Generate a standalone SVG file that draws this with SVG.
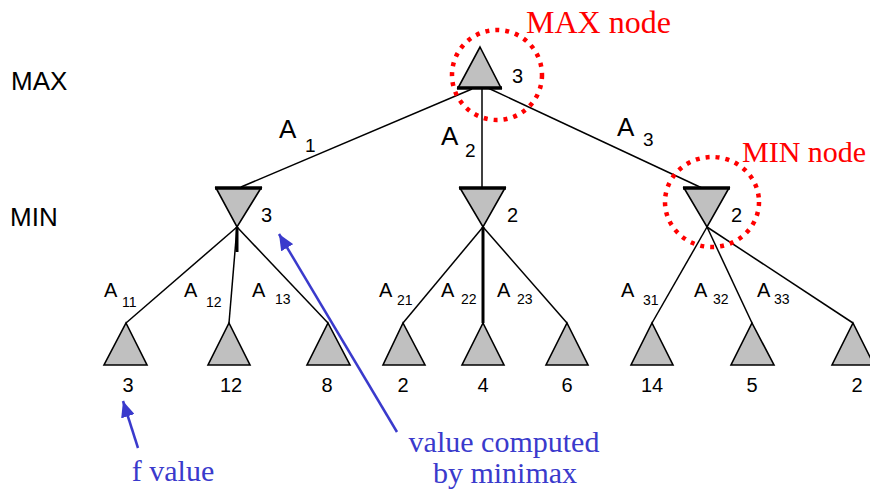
<svg xmlns="http://www.w3.org/2000/svg" width="870" height="494" viewBox="0 0 870 494">
<style>
.tri{fill:#c0c0c0;stroke:#000;stroke-width:1.6;stroke-linejoin:miter}
.bar{stroke:#000;stroke-width:3.5}
.edge{stroke:#000;stroke-width:1.5;fill:none}
.val{font-family:"Liberation Sans",Arial,sans-serif;font-size:20px;fill:#000}
.lvl{font-family:"Liberation Sans",Arial,sans-serif;font-size:26px;fill:#000}
.lab{font-family:"Liberation Sans",Arial,sans-serif;font-size:26px;fill:#000}
.lab2{font-family:"Liberation Sans",Arial,sans-serif;font-size:20px;fill:#000}
.sub{font-family:"Liberation Sans",Arial,sans-serif;font-size:14px;fill:#000}
.sub1{font-family:"Liberation Sans",Arial,sans-serif;font-size:19px;fill:#000}
.red{font-family:"Liberation Serif","Times New Roman",serif;font-size:32px;fill:#ff0000}
.blue{font-family:"Liberation Serif","Times New Roman",serif;font-size:30px;fill:#3a3acc}
.ring{fill:none;stroke:#ff0000;stroke-width:4.5;stroke-dasharray:4 6}
.barrow{stroke:#3a3acc;stroke-width:2.5;fill:none}
</style>
<defs>
<marker id="ah" markerUnits="userSpaceOnUse" markerWidth="18" markerHeight="14" refX="16" refY="7" orient="auto">
<path d="M0,0 L16,7 L0,14 Z" fill="#3a3acc"/>
</marker>
</defs>

<text class="lvl" x="11" y="90">MAX</text>
<text class="lvl" x="10" y="226">MIN</text>

<g id="connectors">
<line class="edge" x1="472" y1="89" x2="241" y2="187"/>
<line class="edge" x1="482" y1="88" x2="482" y2="188"/>
<line class="edge" x1="488" y1="88" x2="702" y2="188"/>
<line class="edge" x1="237" y1="227" x2="126" y2="323"/>
<line class="edge" x1="237" y1="227" x2="229" y2="323"/>
<line class="edge" x1="237" y1="227" x2="328" y2="323"/>
<line class="edge" x1="237" y1="227" x2="237" y2="252" style="stroke-width:3"/>
<line class="edge" x1="483" y1="227" x2="403" y2="323"/>
<line class="edge" x1="483" y1="227" x2="483" y2="323" style="stroke-width:3"/>
<line class="edge" x1="483" y1="227" x2="567" y2="323"/>
<line class="edge" x1="707" y1="227" x2="652" y2="323"/>
<line class="edge" x1="707" y1="227" x2="752" y2="323"/>
<line class="edge" x1="707" y1="227" x2="853" y2="323"/>
<line class="barrow" x1="397" y1="432" x2="279" y2="234" marker-end="url(#ah)"/>
<line class="barrow" x1="138" y1="448" x2="123" y2="401" marker-end="url(#ah)"/>
</g>

<g id="labels">
<text class="lab" x="279" y="138">A</text><text class="sub1" x="305" y="152">1</text>
<text class="lab" x="441" y="145">A</text><text class="sub1" x="465" y="157">2</text>
<text class="lab" x="617" y="136">A</text><text class="sub1" x="643" y="146">3</text>
<text class="lab2" x="104" y="297">A</text><text class="sub" x="122" y="307">11</text>
<text class="lab2" x="184" y="297">A</text><text class="sub" x="206" y="307">12</text>
<text class="lab2" x="252" y="297">A</text><text class="sub" x="275" y="304">13</text>
<text class="lab2" x="379" y="297">A</text><text class="sub" x="397" y="305">21</text>
<text class="lab2" x="441" y="297">A</text><text class="sub" x="461" y="304">22</text>
<text class="lab2" x="497" y="297">A</text><text class="sub" x="517" y="304">23</text>
<text class="lab2" x="621" y="297">A</text><text class="sub" x="643" y="305">31</text>
<text class="lab2" x="694" y="297">A</text><text class="sub" x="713" y="304">32</text>
<text class="lab2" x="757" y="297">A</text><text class="sub" x="774" y="304">33</text>
</g>

<g id="max-root">
<path class="tri" d="M480,47 L501,88 L458,88 Z"/>
<line class="bar" x1="457" y1="88" x2="502" y2="88"/>
<text class="val" x="512" y="83">3</text>
<circle class="ring" cx="497" cy="75" r="45"/>
<text class="red" x="526" y="33">MAX node</text>
</g>

<g id="min-1">
<path class="tri" d="M216,188 L261,188 L237,227 Z"/>
<line class="bar" x1="215" y1="188" x2="262" y2="188"/>
<text class="val" x="261" y="222">3</text>
</g>
<g id="min-2">
<path class="tri" d="M460,188 L505,188 L483,227 Z"/>
<line class="bar" x1="459" y1="188" x2="506" y2="188"/>
<text class="val" x="507" y="222">2</text>
</g>
<g id="min-3">
<path class="tri" d="M684,188 L729,188 L707,227 Z"/>
<line class="bar" x1="683" y1="188" x2="730" y2="188"/>
<text class="val" x="731" y="222">2</text>
<ellipse class="ring" cx="712" cy="202" rx="47" ry="45"/>
<text class="red" x="742" y="162" style="font-size:30px">MIN node</text>
</g>

<g id="leaf-1"><path class="tri" d="M126,323 L147,365 L104,365 Z"/><text class="val" x="128" y="392" text-anchor="middle">3</text></g>
<g id="leaf-2"><path class="tri" d="M229,323 L250,365 L208,365 Z"/><text class="val" x="231" y="392" text-anchor="middle">12</text></g>
<g id="leaf-3"><path class="tri" d="M328,323 L350,365 L307,365 Z"/><text class="val" x="327" y="392" text-anchor="middle">8</text></g>
<g id="leaf-4"><path class="tri" d="M403,323 L425,365 L383,365 Z"/><text class="val" x="403" y="392" text-anchor="middle">2</text></g>
<g id="leaf-5"><path class="tri" d="M483,323 L504,365 L462,365 Z"/><text class="val" x="483" y="392" text-anchor="middle">4</text></g>
<g id="leaf-6"><path class="tri" d="M567,323 L588,365 L546,365 Z"/><text class="val" x="567" y="392" text-anchor="middle">6</text></g>
<g id="leaf-7"><path class="tri" d="M652,323 L673,365 L631,365 Z"/><text class="val" x="652" y="392" text-anchor="middle">14</text></g>
<g id="leaf-8"><path class="tri" d="M752,323 L774,365 L731,365 Z"/><text class="val" x="752" y="392" text-anchor="middle">5</text></g>
<g id="leaf-9"><path class="tri" d="M853,323 L874,365 L832,365 Z"/><text class="val" x="857" y="392" text-anchor="middle">2</text></g>

<g id="notes">
<text class="blue" x="504" y="452" text-anchor="middle">value computed</text>
<text class="blue" x="505" y="483" text-anchor="middle">by minimax</text>
<text class="blue" x="173" y="481" text-anchor="middle">f value</text>
</g>
</svg>
